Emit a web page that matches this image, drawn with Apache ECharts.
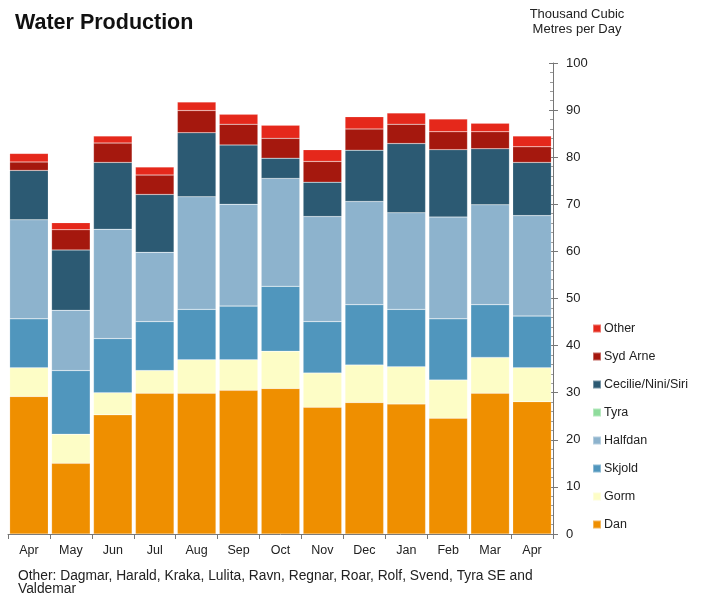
<!DOCTYPE html>
<html>
<head>
<meta charset="utf-8">
<script src="https://cdn.jsdelivr.net/npm/echarts@6/dist/echarts.min.js"></script>
<style>html,body{margin:0;padding:0;background:#fff}#c{width:703px;height:593px}</style>
</head>
<body>
<div id="c"></div>
<script>
const categories = ['Apr','May','Jun','Jul','Aug','Sep','Oct','Nov','Dec','Jan','Feb','Mar','Apr'];
const dan      = [29.2, 15.0, 25.3, 29.9, 29.9, 30.5, 30.9, 26.9, 27.9, 27.6, 24.6, 29.9, 28.1];
const gorm     = [6.1, 6.2, 4.7, 4.8, 7.1, 6.5, 7.9, 7.3, 8.0, 7.9, 8.1, 7.6, 7.2];
const skjold   = [10.4, 13.5, 11.5, 10.4, 10.7, 11.4, 13.8, 10.9, 12.8, 12.2, 13.0, 11.2, 11.0];
const tyra     = [0, 0, 0, 0, 0, 0, 0, 0, 0, 0, 0, 0, 0];
const halfdan  = [21.0, 12.8, 23.2, 14.7, 23.9, 21.6, 22.9, 22.3, 21.9, 20.5, 21.6, 21.2, 21.3];
const cecilie  = [10.5, 12.8, 14.2, 12.3, 13.6, 12.6, 4.3, 7.3, 10.9, 14.7, 14.3, 11.9, 11.3];
const sydArne  = [1.8, 4.3, 4.1, 4.1, 4.7, 4.4, 4.2, 4.4, 4.5, 4.1, 3.8, 3.6, 3.3];
const other    = [1.8, 1.5, 1.5, 1.7, 1.8, 2.1, 2.8, 2.5, 2.6, 2.4, 2.7, 1.8, 2.3];
const yTicks   = [0, 10, 20, 30, 40, 50, 60, 70, 80, 90, 100];

const seriesDefs = [
  ['Dan', dan, '#ef8f00'],
  ['Gorm', gorm, '#fdfdc6'],
  ['Skjold', skjold, '#5096bd'],
  ['Tyra', tyra, '#8fdc9c'],
  ['Halfdan', halfdan, '#8db3cd'],
  ['Cecilie/Nini/Siri', cecilie, '#2c5a73'],
  ['Syd Arne', sydArne, '#a5180e'],
  ['Other', other, '#e5281b']
];

const chart = echarts.init(document.getElementById('c'), null, {renderer:'canvas'});
const font = '"Liberation Sans", Arial, sans-serif';
const yBase = {
  type: 'value', position: 'right', min: 0, max: 100, interval: 10,
  splitLine: {show: false}
};
chart.setOption({
  animation: false,
  backgroundColor: '#fff',
  textStyle: {fontFamily: font},
  title: [
    {text: 'Water Production', left: 10, top: 7, textStyle: {fontFamily: font, fontSize: 21.5, fontWeight: 'bold', color: '#111'}},
    {text: 'Thousand Cubic\nMetres per Day', left: 572, top: 2, textAlign: 'center', textStyle: {fontFamily: font, fontSize: 13, fontWeight: 'normal', color: '#222', lineHeight: 15}},
    {text: 'Other: Dagmar, Harald, Kraka, Lulita, Ravn, Regnar, Roar, Rolf, Svend, Tyra SE and\nValdemar', left: 13, top: 565, textStyle: {fontFamily: font, fontSize: 13.8, fontWeight: 'normal', color: '#222', lineHeight: 13}}
  ],
  legend: {
    orient: 'vertical',
    left: 587,
    top: 317,
    itemWidth: 8,
    itemHeight: 8,
    itemGap: 15,
    icon: 'rect',
    textStyle: {fontFamily: font, fontSize: 12.5, color: '#222', padding: [0,0,0,-2]},
    data: ['Other','Syd Arne','Cecilie/Nini/Siri','Tyra','Halfdan','Skjold','Gorm','Dan']
  },
  grid: {left: 8, right: 150, top: 63, bottom: 59},
  xAxis: {
    type: 'category',
    data: categories,
    axisLine: {lineStyle: {color: '#777'}},
    axisTick: {show: true, alignWithLabel: false, length: 5, lineStyle: {color: '#777'}},
    axisLabel: {color: '#222', fontSize: 12.5, margin: 10, fontFamily: font}
  },
  yAxis: [
    Object.assign({}, yBase, {
      axisLine: {show: true, lineStyle: {color: '#777'}},
      axisTick: {show: true, inside: true, length: 4, lineStyle: {color: '#777'}},
      minorTick: {show: true, splitNumber: 5, length: 3, lineStyle: {color: '#999'}},
      axisLabel: {color: '#222', fontSize: 13, margin: 13, fontFamily: font,
        formatter: v => yTicks.indexOf(v) >= 0 ? String(v) : ''}
    }),
    Object.assign({}, yBase, {
      axisLine: {show: false},
      axisTick: {show: true, inside: false, length: 5, lineStyle: {color: '#777'}},
      axisLabel: {show: false}
    })
  ],
  series: seriesDefs.map(([name, data, color]) => ({
    name, type: 'bar', stack: 'total', data, yAxisIndex: 0,
    barCategoryGap: '8%',
    itemStyle: {color, borderColor: 'rgba(255,255,255,0.35)', borderWidth: 0.5},
    emphasis: {disabled: true}
  }))
});
</script>
</body>
</html>
